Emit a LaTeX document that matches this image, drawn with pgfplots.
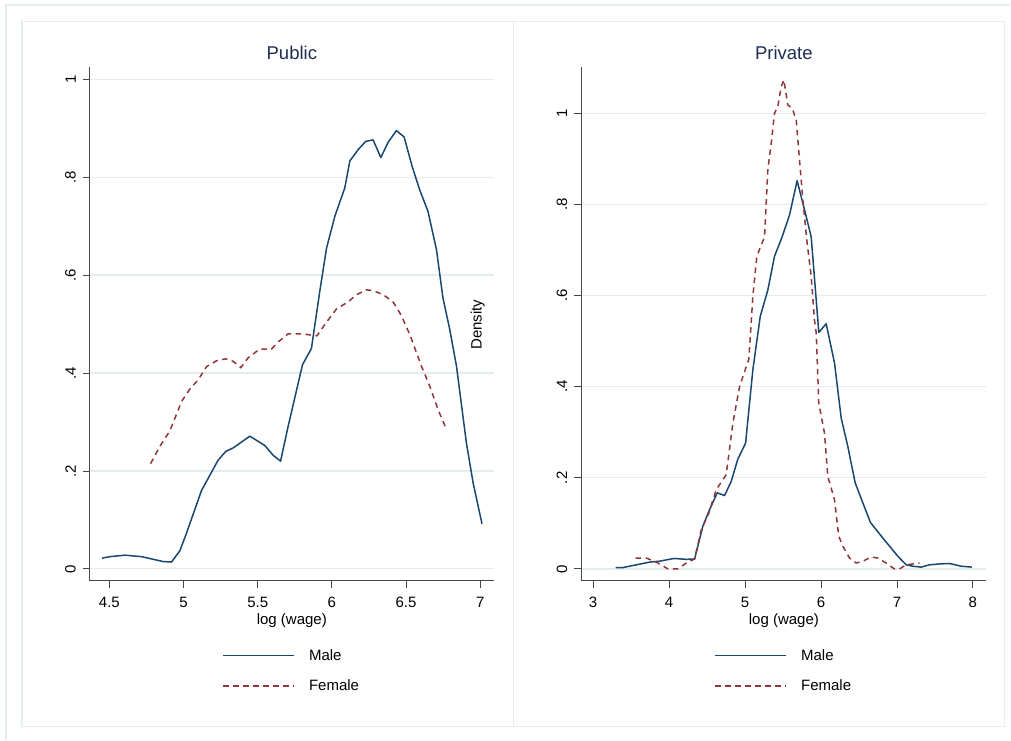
\documentclass[border=0pt]{standalone}
\usepackage{fontspec}
\setmainfont{Liberation Sans}
\usepackage{pgfplots}
\pgfplotsset{compat=1.18}
\definecolor{stnavy}{HTML}{1A476F}
\definecolor{stmaroon}{HTML}{90353B}
\definecolor{gridc}{HTML}{E4ECEF}
\definecolor{boxc}{HTML}{E6EEF0}
\definecolor{titc}{HTML}{1E2D53}
\newcommand{\tfont}{\fontsize{15}{18}\selectfont}
\pgfplotsset{
  stata/.style={
    scale only axis, anchor=south west,
    axis x line*=bottom, axis y line*=left,
    axis line style={line width=0.9pt, draw=black!72},
    tick style={line width=0.9pt, draw=black!72},
    tick align=outside, major tick length=7pt,
    ymajorgrids, grid style={gridc, line width=1.2pt},
    ytick={0,0.2,0.4,0.6,0.8,1}, yticklabels={0,.2,.4,.6,.8,1},
    yticklabel style={rotate=90, anchor=south, font=\tfont, inner sep=0pt, yshift=7pt},
    xticklabel style={font=\tfont, anchor=north, inner sep=0pt, yshift=-9pt},
    xlabel style={font=\tfont, inner sep=0pt, anchor=north, at={(0.5,0)}, yshift=-33pt},
    title style={font=\fontsize{18.5}{22}\selectfont, text=titc, inner sep=0pt, anchor=south, at={(0.5,1)}, yshift=1pt},
    legend style={draw=none, fill=none, font=\tfont, anchor=north, at={(0.5,-0.1256)},
      row sep=14pt, /tikz/every odd column/.append style={column sep=12pt}},
    legend cell align=left,
    legend image code/.code={\draw[#1] (0pt,0pt) -- (71pt,0pt);},
    male/.style={stnavy, line width=1.5pt, line join=round},
    female/.style={stmaroon, line width=1.5pt, dash pattern=on 5.5pt off 4.5pt},
  }
}
\begin{document}
\begin{tikzpicture}
\path (0pt,0pt) rectangle (1011pt,740pt);
\draw[boxc, line width=1.2pt] (6pt,0pt) -- (6pt,735pt) -- (1011pt,735pt);
\draw[boxc, line width=1.2pt] (22pt,13.3pt) rectangle (513.5pt,718.3pt);
\draw[boxc, line width=1.2pt] (513.5pt,13.3pt) rectangle (1005pt,718.3pt);

\begin{axis}[stata, at={(90pt,159pt)}, width=404pt, height=514pt,
  xmin=4.369, xmax=7.091, ymin=-0.024, ymax=1.025,
  xtick={4.5,5,5.5,6,6.5,7}, xticklabels={4.5,5,5.5,6,6.5,7},
  title={Public}, xlabel={log (wage)}]
\addplot[male] coordinates {
(4.451,0.022) (4.503,0.025) (4.604,0.028) (4.717,0.025) (4.863,0.015)
(4.919,0.014) (4.975,0.037) (5.020,0.073) (5.121,0.160) (5.233,0.222)
(5.285,0.240) (5.334,0.247) (5.447,0.271) (5.548,0.252) (5.604,0.232)
(5.654,0.220) (5.705,0.291) (5.802,0.417) (5.862,0.450) (5.920,0.570)
(5.964,0.655) (6.020,0.720) (6.087,0.778) (6.121,0.833) (6.177,0.856)
(6.228,0.873) (6.278,0.876) (6.330,0.840) (6.379,0.871) (6.435,0.895)
(6.487,0.882) (6.541,0.822) (6.592,0.774) (6.648,0.730) (6.705,0.652)
(6.749,0.553) (6.794,0.490) (6.840,0.414) (6.907,0.257) (6.952,0.176)
(7.012,0.092)};
\addlegendentry{Male}
\addplot[female] coordinates {
(4.778,0.215) (4.840,0.250) (4.908,0.282) (4.987,0.342) (5.042,0.367)
(5.098,0.386) (5.155,0.413) (5.222,0.425) (5.285,0.429) (5.334,0.424)
(5.386,0.411) (5.435,0.431) (5.514,0.449) (5.593,0.449) (5.644,0.465)
(5.705,0.480) (5.795,0.480) (5.900,0.476) (5.952,0.499) (6.031,0.531)
(6.109,0.545) (6.166,0.560) (6.234,0.570) (6.278,0.568) (6.346,0.560)
(6.413,0.545) (6.469,0.517) (6.526,0.478) (6.604,0.414) (6.660,0.373)
(6.716,0.325) (6.768,0.288)};
\addlegendentry{Female}
\node[rotate=90, font=\tfont, inner sep=0pt] at (axis cs:6.983,0.4986) {Density};
\end{axis}

\begin{axis}[stata, at={(581.7pt,159pt)}, width=405.3pt, height=514pt,
  xmin=2.845, xmax=8.178, ymin=-0.0257, ymax=1.1015,
  xtick={3,4,5,6,7,8}, xticklabels={3,4,5,6,7,8},
  title={Private}, xlabel={log (wage)}]
\addplot[male] coordinates {
(3.296,0.003) (3.392,0.003) (3.568,0.009) (3.743,0.015) (3.875,0.017)
(4.064,0.023) (4.226,0.021) (4.336,0.022) (4.445,0.094) (4.533,0.130)
(4.634,0.167) (4.730,0.161) (4.818,0.192) (4.905,0.241) (5.007,0.276)
(5.103,0.437) (5.200,0.554) (5.300,0.612) (5.388,0.686) (5.489,0.729)
(5.586,0.777) (5.686,0.852) (5.783,0.788) (5.871,0.729) (5.971,0.519)
(6.068,0.538) (6.178,0.452) (6.266,0.331) (6.353,0.269) (6.450,0.189)
(6.551,0.145) (6.651,0.102) (6.813,0.068) (7.011,0.028) (7.121,0.009)
(7.208,0.006) (7.318,0.004) (7.428,0.009) (7.559,0.011) (7.691,0.012)
(7.845,0.006) (7.985,0.004)};
\addlegendentry{Male}
\addplot[female] coordinates {
(3.559,0.024) (3.700,0.024) (3.853,0.013) (3.985,0.000) (4.116,0.000)
(4.226,0.013) (4.336,0.022) (4.424,0.086) (4.524,0.123) (4.621,0.174)
(4.752,0.207) (4.840,0.320) (4.928,0.400) (5.016,0.444) (5.050,0.460)
(5.103,0.598) (5.155,0.686) (5.257,0.729) (5.300,0.876) (5.345,0.934)
(5.388,1.000) (5.432,1.015) (5.476,1.058) (5.511,1.073) (5.563,1.018)
(5.621,1.011) (5.674,0.985) (5.717,0.898) (5.761,0.810) (5.813,0.722)
(5.871,0.642) (5.914,0.547) (5.937,0.518) (5.971,0.364) (6.046,0.298)
(6.090,0.203) (6.178,0.152) (6.234,0.072) (6.287,0.050) (6.375,0.024)
(6.463,0.013) (6.551,0.017) (6.661,0.026) (6.747,0.024) (6.858,0.013)
(6.967,0.000) (7.033,0.000) (7.121,0.009) (7.296,0.013)};
\addlegendentry{Female}
\end{axis}
\end{tikzpicture}
\end{document}
